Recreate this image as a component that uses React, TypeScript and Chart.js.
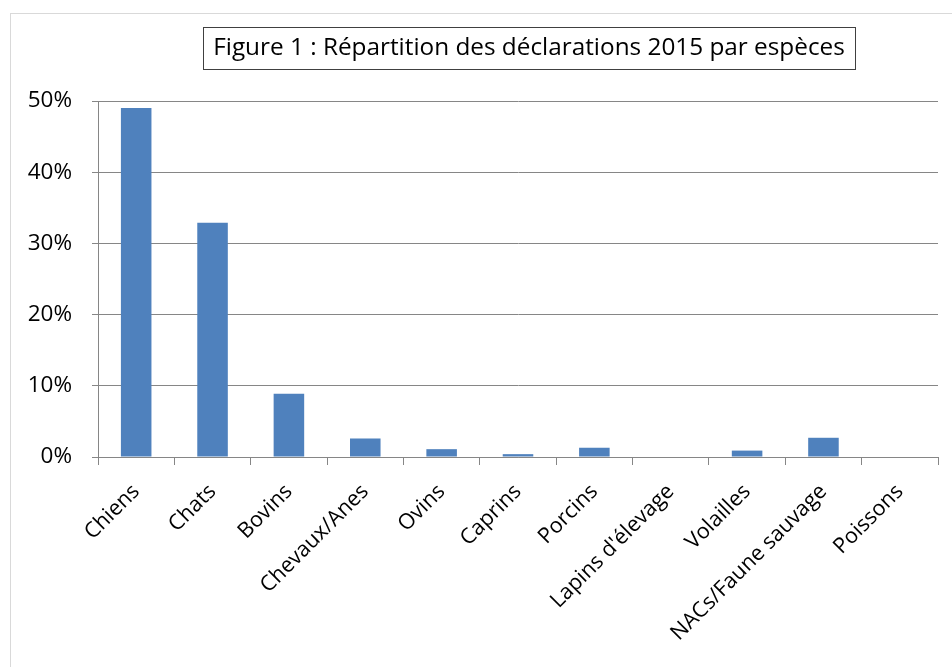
import React, { useEffect, useRef } from "react";
import { Chart, registerables } from "chart.js";

Chart.register(...registerables);

const categories = [
  "Chiens",
  "Chats",
  "Bovins",
  "Chevaux/Anes",
  "Ovins",
  "Caprins",
  "Porcins",
  "Lapins d'élevage",
  "Volailles",
  "NACs/Faune sauvage",
  "Poissons",
];
const values = [49.0, 32.9, 8.9, 2.6, 1.1, 0.4, 1.3, 0, 0.9, 2.7, 0];
const titleText = "Figure 1 : Répartition des déclarations 2015 par espèces";
const FONT = "'Open Sans', 'Noto Sans', sans-serif";

const titleBoxPlugin = {
  id: "titleBox",
  afterDraw(chart: any) {
    const ctx = chart.ctx;
    ctx.save();
    let size = 22;
    ctx.font = `${size}px ${FONT}`;
    const w = ctx.measureText(titleText).width;
    size = size * (632 / w);
    ctx.font = `${size}px ${FONT}`;
    const cx = 529;
    const cy = 48;
    ctx.fillStyle = "#000";
    ctx.textAlign = "center";
    ctx.textBaseline = "middle";
    ctx.fillText(titleText, cx, cy);
    ctx.strokeStyle = "#404040";
    ctx.lineWidth = 1;
    ctx.strokeRect(203.5, 27.5, 652, 42);
    ctx.restore();
  },
};

export default function App() {
  const ref = useRef<HTMLCanvasElement | null>(null);
  useEffect(() => {
    if (!ref.current) return;
    const chart = new Chart(ref.current, {
      type: "bar",
      data: {
        labels: categories,
        datasets: [
          {
            data: values,
            backgroundColor: "#4f81bd",
            borderWidth: 0,
            categoryPercentage: 1,
            barPercentage: 0.4,
          },
        ],
      },
      options: {
        animation: false,
        responsive: true,
        maintainAspectRatio: false,
        layout: { padding: { top: 101, right: 14, left: 0, bottom: 0 } },
        plugins: { legend: { display: false }, tooltip: { enabled: false }, title: { display: false } },
        scales: {
          x: {
            afterFit(scale: any) {
              scale.height = 210;
            },
            grid: {
              offset: true,
              drawOnChartArea: false,
              drawTicks: true,
              tickLength: 8,
              color: "#868686",
            },
            border: { color: "#868686", width: 1 },
            ticks: {
              autoSkip: false,
              minRotation: 45,
              maxRotation: 45,
              padding: 14,
              color: "#000",
              font: { family: FONT, size: 21.5 },
            },
          },
          y: {
            min: 0,
            max: 50,
            afterFit(scale: any) {
              scale.width = 98;
            },
            grid: { color: "#868686", tickLength: 6, drawTicks: true },
            border: { color: "#868686", width: 1 },
            ticks: {
              stepSize: 10,
              padding: 20,
              color: "#000",
              font: { family: FONT, size: 22.5 },
              callback: (v: any) => `${v}%`,
            },
          },
        },
      },
      plugins: [titleBoxPlugin],
    });
    return () => chart.destroy();
  }, []);
  return (
    <div style={{ position: "fixed", left: 0, top: 0, width: 952, height: 667, background: "#fff" }}>
      <div
        style={{
          position: "absolute",
          left: 10,
          top: 13,
          width: 960,
          height: 700,
          border: "1px solid #d9d9d9",
          boxSizing: "border-box",
        }}
      />
      <canvas ref={ref} style={{ position: "absolute", left: 0, top: 0 }} />
    </div>
  );
}
